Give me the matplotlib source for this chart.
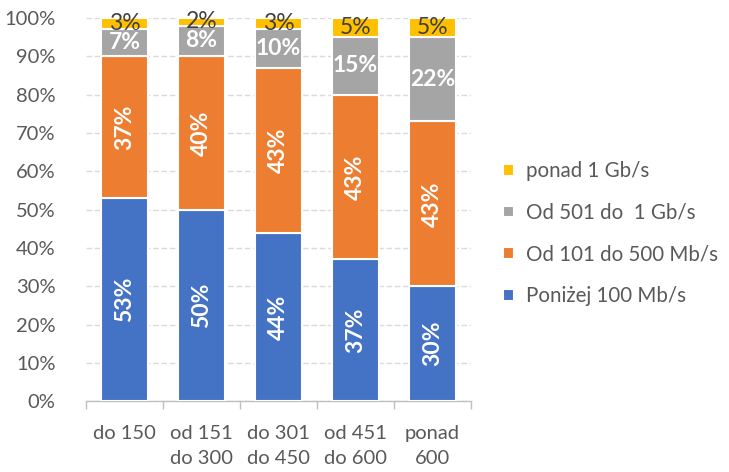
import numpy as np
import matplotlib.pyplot as plt

plt.rcParams['font.family'] = ['Lato', 'DejaVu Sans']

categories = ['do 150', 'od 151\ndo 300', 'do 301\ndo 450', 'od 451\ndo 600', 'ponad\n600']
series = ['Poniżej 100 Mb/s', 'Od 101 do 500 Mb/s', 'Od 501 do  1 Gb/s', 'ponad 1 Gb/s']
below_100 = [53, 50, 44, 37, 30]
from_101_500 = [37, 40, 43, 43, 43]
from_501_1g = [7, 8, 10, 15, 22]
above_1g = [3, 2, 3, 5, 5]

colors = ['#4472C4', '#ED7D31', '#A5A5A5', '#FFC000']
values = [below_100, from_101_500, from_501_1g, above_1g]

fig = plt.figure(figsize=(7.29, 4.72), dpi=100)
ax = fig.add_axes([0.118, 0.150, 0.528, 0.812])

x = np.arange(len(categories))
bottom = np.zeros(len(categories))
handles = []
for k, (vals, col, name) in enumerate(zip(values, colors, series)):
    vals = np.array(vals, dtype=float)
    bars = ax.bar(x, vals, 0.61, bottom=bottom, color=col, edgecolor='white',
                  linewidth=1.5, label=name, zorder=3)
    handles.append(bars)
    for xi, b, v in zip(x, bottom, vals):
        yc = b + v / 2
        if k < 2:
            ax.text(xi, yc, f'{v:.0f}%', ha='center', va='center', rotation=90,
                    color='white', fontsize=16.5, fontweight='bold', zorder=4)
        elif k == 2:
            ax.text(xi, yc, f'{v:.0f}%', ha='center', va='center',
                    color='white', fontsize=16.5, fontweight='bold', zorder=4)
        else:
            ax.text(xi, yc, f'{v:.0f}%', ha='center', va='center',
                    color='#404040', fontsize=16.5, zorder=4)
    bottom += vals

ax.set_xlim(-0.5, len(categories) - 0.5)
ax.set_ylim(0, 100)
ax.set_yticks(np.arange(0, 101, 10))
ax.set_yticklabels([f'{t}%' for t in range(0, 101, 10)])
ax.yaxis.grid(True, linestyle=(0, (4, 2)), color='#dadada', linewidth=1, zorder=0)
ax.tick_params(axis='y', length=0, labelsize=14.5, labelcolor='#595959', pad=22)

ax.set_xticks(x)
ax.set_xticklabels(categories)
ax.set_xticks(np.arange(-0.5, len(categories)), minor=True)
ax.tick_params(axis='x', which='major', length=0, labelsize=14.5,
               labelcolor='#595959', pad=17)
ax.tick_params(axis='x', which='minor', length=6, color='#bfbfbf', width=1)
for lbl in ax.get_xticklabels():
    lbl.set_linespacing(1.55)

for s in ['left', 'right', 'top']:
    ax.spines[s].set_visible(False)
ax.spines['bottom'].set_color('#bfbfbf')
ax.spines['bottom'].set_linewidth(1)

leg = fig.legend(handles[::-1], series[::-1], loc='center left',
                 bbox_to_anchor=(0.665, 0.505), frameon=False, fontsize=14.8,
                 handlelength=0.5, handleheight=0.5, handletextpad=0.6,
                 labelspacing=1.05, labelcolor='#595959')

fig.savefig('out.png', dpi=100)
